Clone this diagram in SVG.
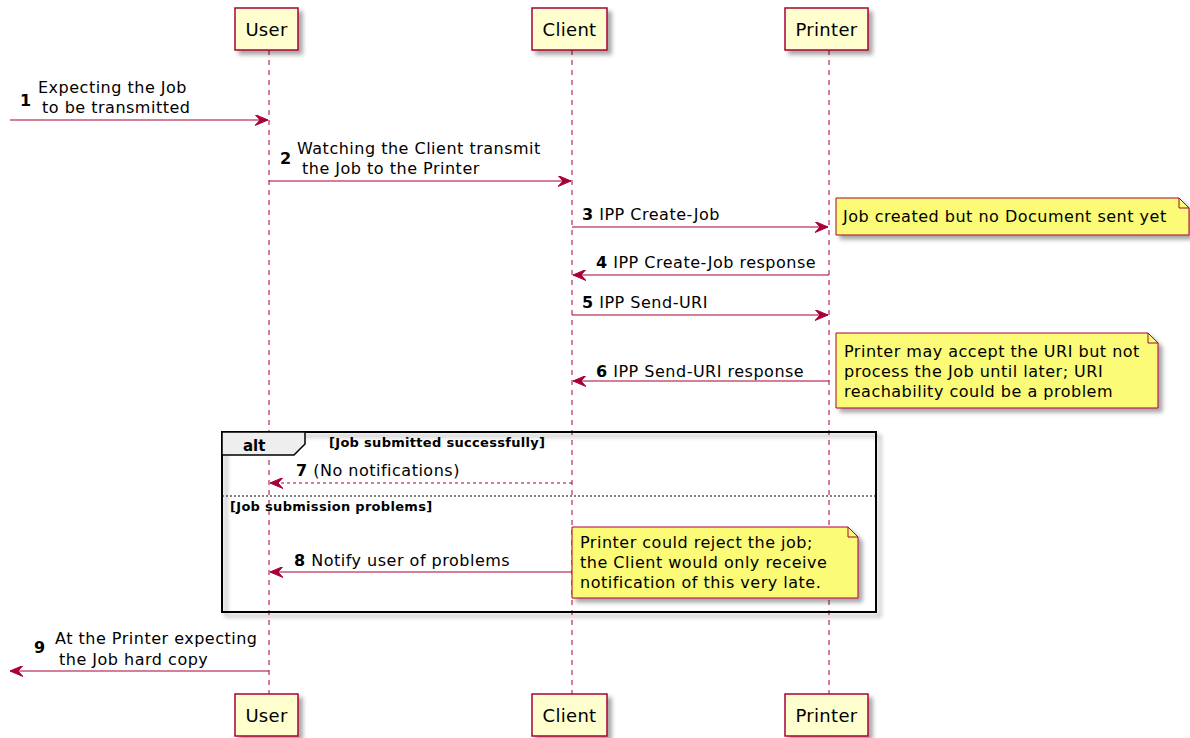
<svg xmlns="http://www.w3.org/2000/svg" width="1190" height="738" viewBox="0 0 1190 738">
<style>
text{font-family:"DejaVu Sans","Liberation Sans",sans-serif;fill:#000}
.msg{font-size:16px;letter-spacing:0.5px}
.num{font-size:16px;font-weight:bold}
.part{font-size:18px;letter-spacing:0.3px}
.pbox{fill:#FEFECE;stroke:#A80036;stroke-width:1.5}
.life{stroke:#A80036;stroke-width:1;stroke-dasharray:5,5}
.arr{stroke:#A80036;stroke-width:1.2;fill:none}
.ah{fill:#A80036;stroke:#A80036}
.note{fill:#FBFB77;stroke:#A80036;stroke-width:1}
.cond{font-size:13px;font-weight:bold;letter-spacing:0.3px}
</style>
<defs>
<filter id="sh" x="-10%" y="-10%" width="130%" height="150%">
<feDropShadow dx="4" dy="4" stdDeviation="2" flood-color="#000" flood-opacity="0.35"/>
</filter>
<marker id="a" viewBox="0 0 13 11" refX="13" refY="5.5" markerWidth="13" markerHeight="11" markerUnits="userSpaceOnUse" orient="auto">
<polygon class="ah" points="0,0 13,5.5 0,11 5,5.5"/>
</marker>
</defs>
<g id="lifelines">
<line class="life" x1="269" y1="50" x2="269" y2="694"/>
<line class="life" x1="572" y1="50" x2="572" y2="694"/>
<line class="life" x1="829" y1="50" x2="829" y2="694"/>
</g>
<g id="user-top"><rect class="pbox" filter="url(#sh)" x="235" y="8" width="63" height="42"/><text class="part" x="266.5" y="36" text-anchor="middle">User</text></g>
<g id="client-top"><rect class="pbox" filter="url(#sh)" x="532" y="8" width="75" height="42"/><text class="part" x="569.5" y="36" text-anchor="middle">Client</text></g>
<g id="printer-top"><rect class="pbox" filter="url(#sh)" x="785" y="8" width="83" height="42"/><text class="part" x="826.5" y="36" text-anchor="middle">Printer</text></g>
<g id="user-bottom"><rect class="pbox" filter="url(#sh)" x="235" y="694" width="63" height="42"/><text class="part" x="266.5" y="722" text-anchor="middle">User</text></g>
<g id="client-bottom"><rect class="pbox" filter="url(#sh)" x="532" y="694" width="75" height="42"/><text class="part" x="569.5" y="722" text-anchor="middle">Client</text></g>
<g id="printer-bottom"><rect class="pbox" filter="url(#sh)" x="785" y="694" width="83" height="42"/><text class="part" x="826.5" y="722" text-anchor="middle">Printer</text></g>
<g id="alt-fragment">
<rect x="222" y="432" width="654" height="180" fill="none" stroke="#000" stroke-width="2" filter="url(#sh)"/>
<polygon points="222,432 305,432 305,444 294,455 222,455" fill="#EEEEEE" stroke="#000" stroke-width="1.5"/>
<text x="243" y="451" font-size="15" font-weight="bold">alt</text>
<text class="cond" x="329" y="447">[Job submitted successfully]</text>
<line x1="222" y1="496" x2="876" y2="496" stroke="#000" stroke-width="1" stroke-dasharray="2,2"/>
<text class="cond" x="230" y="511">[Job submission problems]</text>
</g>
<g id="connectors">
<line class="arr" x1="10" y1="120" x2="268" y2="120" marker-end="url(#a)"/>
<text class="num" x="20" y="106">1</text>
<text class="msg" x="38" y="93">Expecting the Job</text>
<text class="msg" x="42" y="113">to be transmitted</text>
<line class="arr" x1="269" y1="181" x2="571" y2="181" marker-end="url(#a)"/>
<text class="num" x="280" y="164">2</text>
<text class="msg" x="297" y="154">Watching the Client transmit</text>
<text class="msg" x="302" y="174">the Job to the Printer</text>
<line class="arr" x1="572" y1="227" x2="828" y2="227" marker-end="url(#a)"/>
<text class="msg" x="582" y="220"><tspan class="num">3</tspan> IPP Create-Job</text>
<line class="arr" x1="829" y1="275" x2="573" y2="275" marker-end="url(#a)"/>
<text class="msg" x="596" y="268"><tspan class="num">4</tspan> IPP Create-Job response</text>
<line class="arr" x1="572" y1="315" x2="828" y2="315" marker-end="url(#a)"/>
<text class="msg" x="582" y="308"><tspan class="num">5</tspan> IPP Send-URI</text>
<line class="arr" x1="829" y1="381" x2="573" y2="381" marker-end="url(#a)"/>
<text class="msg" x="596" y="377"><tspan class="num">6</tspan> IPP Send-URI response</text>
<line class="arr" x1="572" y1="483" x2="270" y2="483" stroke-dasharray="3,3" marker-end="url(#a)"/>
<text class="msg" x="296" y="476"><tspan class="num">7</tspan> (No notifications)</text>
<line class="arr" x1="572" y1="572" x2="270" y2="572" marker-end="url(#a)"/>
<text class="msg" x="294" y="566"><tspan class="num">8</tspan> Notify user of problems</text>
<line class="arr" x1="269" y1="671" x2="10" y2="671" marker-end="url(#a)"/>
<text class="num" x="34" y="653">9</text>
<text class="msg" x="55" y="644">At the Printer expecting</text>
<text class="msg" x="59" y="665">the Job hard copy</text>
</g>
<g id="note1">
<path class="note" filter="url(#sh)" d="M836,198 L1179,198 L1189,208 L1189,235 L836,235 Z"/>
<path d="M1179,198 L1179,208 L1189,208" fill="none" stroke="#A80036"/>
<text class="msg" x="843" y="222">Job created but no Document sent yet</text>
</g>
<g id="note2">
<path class="note" filter="url(#sh)" d="M836,333 L1148,333 L1158,343 L1158,408 L836,408 Z"/>
<path d="M1148,333 L1148,343 L1158,343" fill="none" stroke="#A80036"/>
<text class="msg" x="844" y="357">Printer may accept the URI but not</text>
<text class="msg" x="844" y="377">process the Job until later; URI</text>
<text class="msg" x="844" y="397">reachability could be a problem</text>
</g>
<g id="note3">
<path class="note" filter="url(#sh)" d="M572,527 L848,527 L858,537 L858,598 L572,598 Z"/>
<path d="M848,527 L848,537 L858,537" fill="none" stroke="#A80036"/>
<text class="msg" x="580" y="548">Printer could reject the job;</text>
<text class="msg" x="580" y="568">the Client would only receive</text>
<text class="msg" x="580" y="588">notification of this very late.</text>
</g>
</svg>
